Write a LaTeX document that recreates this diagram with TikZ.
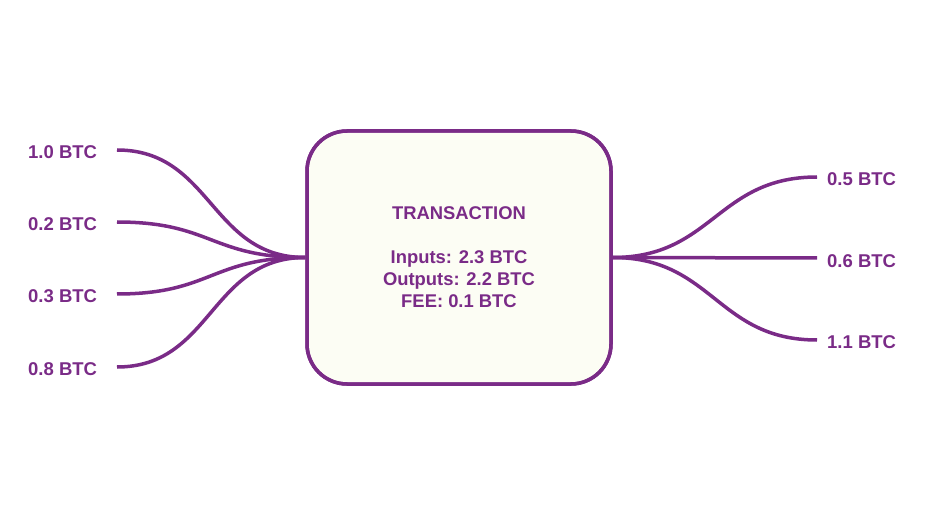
\documentclass[tikz,border=0pt]{standalone}
\usepackage{fontspec}
\setmainfont{Liberation Sans}
\definecolor{btcpurple}{HTML}{7A2B87}
\definecolor{boxfill}{HTML}{FCFDF4}
\begin{document}
\begin{tikzpicture}[x=1pt,y=-1pt,
  lab/.style={font=\bfseries\fontsize{18.5}{20}\selectfont, text=btcpurple, inner sep=0pt, anchor=west},
  wire/.style={draw=btcpurple, line width=3.5pt},
  txbox/.style={draw=btcpurple, line width=3.5pt, fill=boxfill, rounded corners=40pt,
    minimum width=304pt, minimum height=253pt, inner sep=0pt, align=center,
    text=btcpurple, font=\bfseries\fontsize{18.4}{22}\selectfont}]
\useasboundingbox (0,0) rectangle (927,505);
% box
\node[txbox] (tx) at (459,257.5) {TRANSACTION\\[22pt]Inputs: 2.3 BTC\\Outputs: 2.2 BTC\\FEE: 0.1 BTC};
% input labels
\node[lab] (i1) at (28,152) {1.0 BTC};
\node[lab] (i2) at (28,224) {0.2 BTC};
\node[lab] (i3) at (28,296) {0.3 BTC};
\node[lab] (i4) at (28,369) {0.8 BTC};
% output labels
\node[lab] (o1) at (827,179) {0.5 BTC};
\node[lab] (o2) at (827,261) {0.6 BTC};
\node[lab] (o3) at (827,342) {1.1 BTC};
% wire ends
\coordinate (a1) at (117,150);
\coordinate (a2) at (117,222);
\coordinate (a3) at (117,294);
\coordinate (a4) at (117,367);
\coordinate (b1) at (817,177);
\coordinate (b2) at (817,258);
\coordinate (b3) at (817,340);
% input wires
\foreach \c in {a1,a2,a3,a4}{
  \draw[wire] (\c) .. controls ([xshift=95pt]\c) and ([xshift=-95pt]tx.west) .. (tx.west);
}
% output wires
\draw[wire] (tx.east) .. controls ([xshift=100pt]tx.east) and ([xshift=-100pt]b1) .. (b1);
\draw[wire] (tx.east) -- (b2);
\draw[wire] (tx.east) .. controls ([xshift=100pt]tx.east) and ([xshift=-100pt]b3) .. (b3);
% redraw box border over wire joins
\node[txbox, fill=none] at (tx.center) {\phantom{T}};
\end{tikzpicture}
\end{document}
